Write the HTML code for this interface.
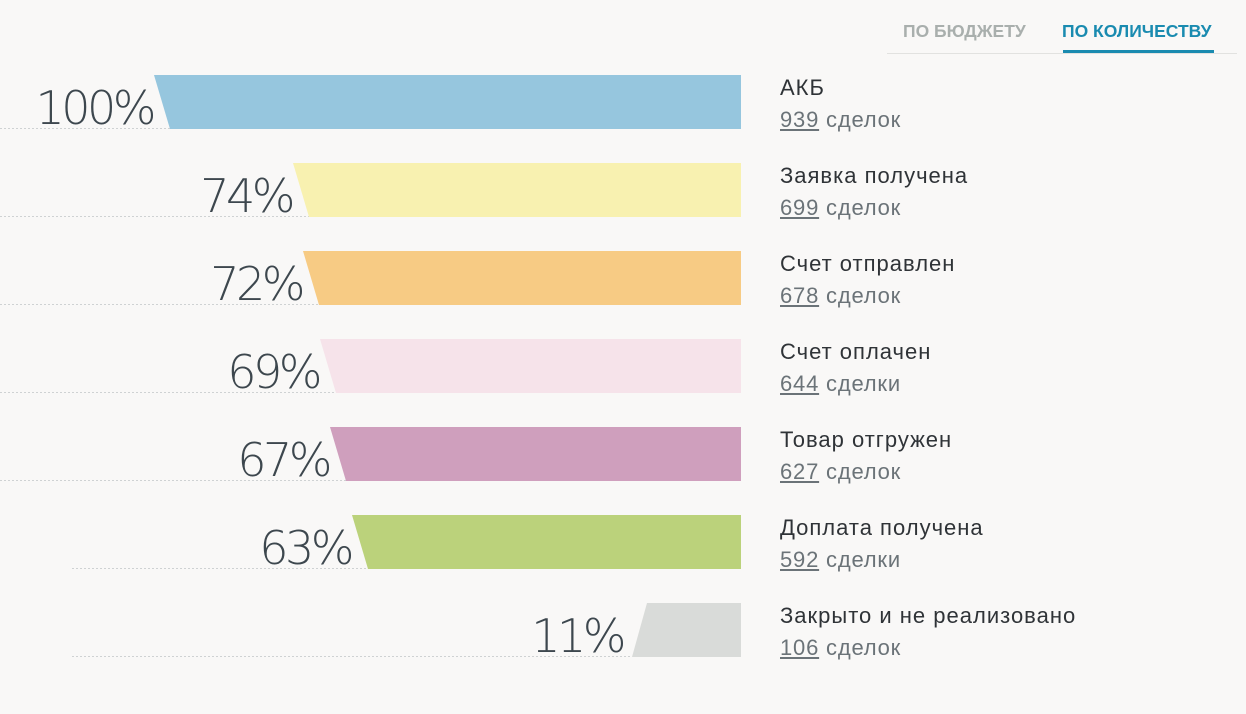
<!DOCTYPE html>
<html><head><meta charset="utf-8"><style>
body{margin:0;width:1246px;height:714px;background:#f9f8f7;font-family:"Liberation Sans","DejaVu Sans",sans-serif;position:relative;overflow:hidden}
.t{position:absolute;white-space:nowrap}
.pct{font-family:"DejaVu Sans ExtraLight","DejaVu Sans Light","Liberation Sans",sans-serif;font-weight:200;font-size:46px;color:#3d474e;letter-spacing:-3.5px}
.nm{font-size:22px;color:#2f3337;letter-spacing:1px}
.ct{font-size:22px;color:#6b7378;letter-spacing:0.8px}
.ct u{text-decoration-color:#6b7378}
</style></head><body>
<div class="t" style="left:903px;top:21px;font-size:17.5px;font-weight:bold;color:#a9afad">ПО БЮДЖЕТУ</div>
<div class="t" style="left:1062px;top:21px;font-size:17.5px;font-weight:bold;color:#1a8bb0">ПО КОЛИЧЕСТВУ</div>
<div style="position:absolute;left:887px;top:53px;width:350px;height:1px;background:#e2e2e0"></div>
<div style="position:absolute;left:1063px;top:50px;width:151px;height:3px;background:#1a8bb0"></div>
<svg width="1246" height="714" style="position:absolute;left:0;top:0">
<g stroke="#cfd2d3" stroke-dasharray="2,2" stroke-width="1">
<line x1="0" y1="128.5" x2="170" y2="128.5"/>
<line x1="0" y1="216.5" x2="309" y2="216.5"/>
<line x1="0" y1="304.5" x2="319" y2="304.5"/>
<line x1="0" y1="392.5" x2="336" y2="392.5"/>
<line x1="0" y1="480.5" x2="346" y2="480.5"/>
<line x1="72" y1="568.5" x2="368" y2="568.5"/>
<line x1="72" y1="656.5" x2="632" y2="656.5"/>
</g>
<polygon points="154,75 741,75 741,129 170,129" fill="#96c6de"/>
<polygon points="293,163 741,163 741,217 309,217" fill="#f8f1b0"/>
<polygon points="303,251 741,251 741,305 319,305" fill="#f7cb84"/>
<polygon points="320,339 741,339 741,393 336,393" fill="#f6e3ea"/>
<polygon points="330,427 741,427 741,481 346,481" fill="#cf9fbd"/>
<polygon points="352,515 741,515 741,569 368,569" fill="#bbd27b"/>
<polygon points="647,603 741,603 741,657 632,657" fill="#d9dbd9"/>
</svg>
<div class="t pct" style="right:1093px;top:81px">100%</div>
<div class="t pct" style="right:954px;top:169px">74%</div>
<div class="t pct" style="right:944px;top:257px">72%</div>
<div class="t pct" style="right:927px;top:345px">69%</div>
<div class="t pct" style="right:917px;top:433px">67%</div>
<div class="t pct" style="right:895px;top:521px">63%</div>
<div class="t pct" style="right:623px;top:609px">11%</div>

<div class="t nm" style="left:780px;top:75px">АКБ</div>
<div class="t ct" style="left:780px;top:107px"><u>939</u> сделок</div>
<div class="t nm" style="left:780px;top:163px">Заявка получена</div>
<div class="t ct" style="left:780px;top:195px"><u>699</u> сделок</div>
<div class="t nm" style="left:780px;top:251px">Счет отправлен</div>
<div class="t ct" style="left:780px;top:283px"><u>678</u> сделок</div>
<div class="t nm" style="left:780px;top:339px">Счет оплачен</div>
<div class="t ct" style="left:780px;top:371px"><u>644</u> сделки</div>
<div class="t nm" style="left:780px;top:427px">Товар отгружен</div>
<div class="t ct" style="left:780px;top:459px"><u>627</u> сделок</div>
<div class="t nm" style="left:780px;top:515px">Доплата получена</div>
<div class="t ct" style="left:780px;top:547px"><u>592</u> сделки</div>
<div class="t nm" style="left:780px;top:603px">Закрыто и не реализовано</div>
<div class="t ct" style="left:780px;top:635px"><u>106</u> сделок</div>
</body></html>
